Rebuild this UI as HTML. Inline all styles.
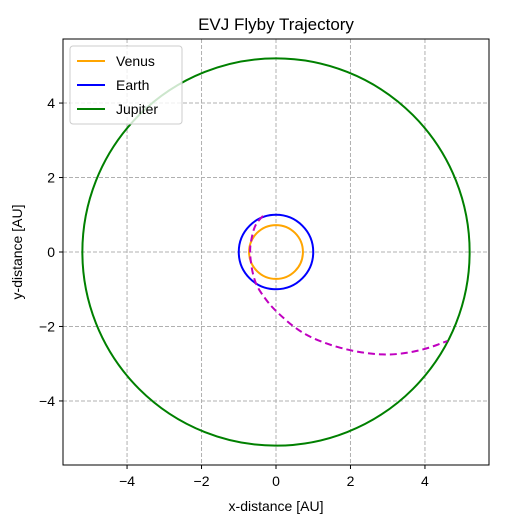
<!DOCTYPE html>
<html><head><meta charset="utf-8"><style>
body{margin:0;background:#fff;}
svg text{font-family:"Liberation Sans","DejaVu Sans",sans-serif;}
</style></head><body>
<svg width="518" height="518" viewBox="0 0 518 518">
<g id="grid"></g>
<g id="series"></g>
<rect x="63" y="39" width="426" height="426" fill="none" stroke="#000" stroke-width="1"/>
<g id="ticks"></g>
<text x="276" y="30" text-anchor="middle" font-size="17">EVJ Flyby Trajectory</text>
<text x="276" y="511" text-anchor="middle" font-size="14">x-distance [AU]</text>
<text x="22" y="252" text-anchor="middle" font-size="14" transform="rotate(-90 22 252)">y-distance [AU]</text>
<g>
<rect x="70" y="46" width="112" height="78" rx="3" fill="#fff" fill-opacity="0.8" stroke="#ccc"/>
<g><line x1="77" y1="61" x2="105" y2="61" stroke="orange" stroke-width="2"/><text x="116" y="66" font-size="14">Venus</text></g>
<g><line x1="77" y1="85" x2="105" y2="85" stroke="blue" stroke-width="2"/><text x="116" y="90" font-size="14">Earth</text></g>
<g><line x1="77" y1="109" x2="105" y2="109" stroke="green" stroke-width="2"/><text x="116" y="114" font-size="14">Jupiter</text></g>
</g>
</svg>
<script>
const xTicks=[-4,-2,0,2,4];
const yTicks=[-4,-2,0,2,4];
const orbitNames=['Venus','Earth','Jupiter'];
const orbitRadii=[0.723,1.0,5.2];
const orbitColors=['orange','blue','green'];
const trajX=[-0.35,-0.55,-0.64,-0.72,-0.59,-0.3,0,0.64,1.3,2.0,2.6,3.1,3.6,4.1,4.6];
const trajY=[0.97,0.75,0.46,0,-0.8,-1.25,-1.6,-2.15,-2.45,-2.65,-2.74,-2.76,-2.7,-2.58,-2.39];
const X0=-5.72,X1=5.72,Y0=-5.72,Y1=5.72;
const sx=v=>63+(v-X0)/(X1-X0)*426;
const sy=v=>465-(v-Y0)/(Y1-Y0)*426;
const NS='http://www.w3.org/2000/svg';
function mk(t,a,p){const e=document.createElementNS(NS,t);for(const k in a)e.setAttribute(k,a[k]);p.appendChild(e);return e;}
const grid=document.getElementById('grid'),ticks=document.getElementById('ticks'),series=document.getElementById('series');
xTicks.forEach(v=>{
 const g=mk('line',{x1:sx(v),x2:sx(v),y1:39,y2:465,stroke:'#b0b0b0','stroke-dasharray':'4,2'},grid);
 
 
 mk('line',{x1:sx(v),x2:sx(v),y1:465,y2:469,stroke:'#000'},ticks);
 const t=mk('text',{x:sx(v),y:486,'text-anchor':'middle','font-size':'14'},ticks);t.textContent=v<0?'\u2212'+(-v):v;
 
 
});
yTicks.forEach(v=>{
 const g=mk('line',{y1:sy(v),y2:sy(v),x1:63,x2:489,stroke:'#b0b0b0','stroke-dasharray':'4,2'},grid);
 
 
 mk('line',{y1:sy(v),y2:sy(v),x1:59,x2:63,stroke:'#000'},ticks);
 const t=mk('text',{x:55,y:sy(v)+5,'text-anchor':'end','font-size':'14'},ticks);t.textContent=v<0?'\u2212'+(-v):v;
 
 
});
orbitRadii.forEach((r,i)=>{
 const c=mk('ellipse',{cx:sx(0),cy:sy(0),rx:sx(r)-sx(0),ry:sy(0)-sy(r),fill:'none',stroke:orbitColors[i],'stroke-width':2},series);
 
 
});
let d='';
for(let i=0;i<trajX.length;i++){
 const x=sx(trajX[i]),y=sy(trajY[i]);
 if(i===0)d+='M'+x+','+y;else{
  const xp=sx(trajX[i-1]),yp=sy(trajY[i-1]);d+=' Q'+xp+','+yp+' '+((xp+x)/2)+','+((yp+y)/2);
 }
}
d+=' L'+sx(trajX[trajX.length-1])+','+sy(trajY[trajY.length-1]);
const p=mk('path',{d:d,fill:'none',stroke:'#c000c0','stroke-width':2,'stroke-dasharray':'7,4'},series);


</script>
</body></html>
